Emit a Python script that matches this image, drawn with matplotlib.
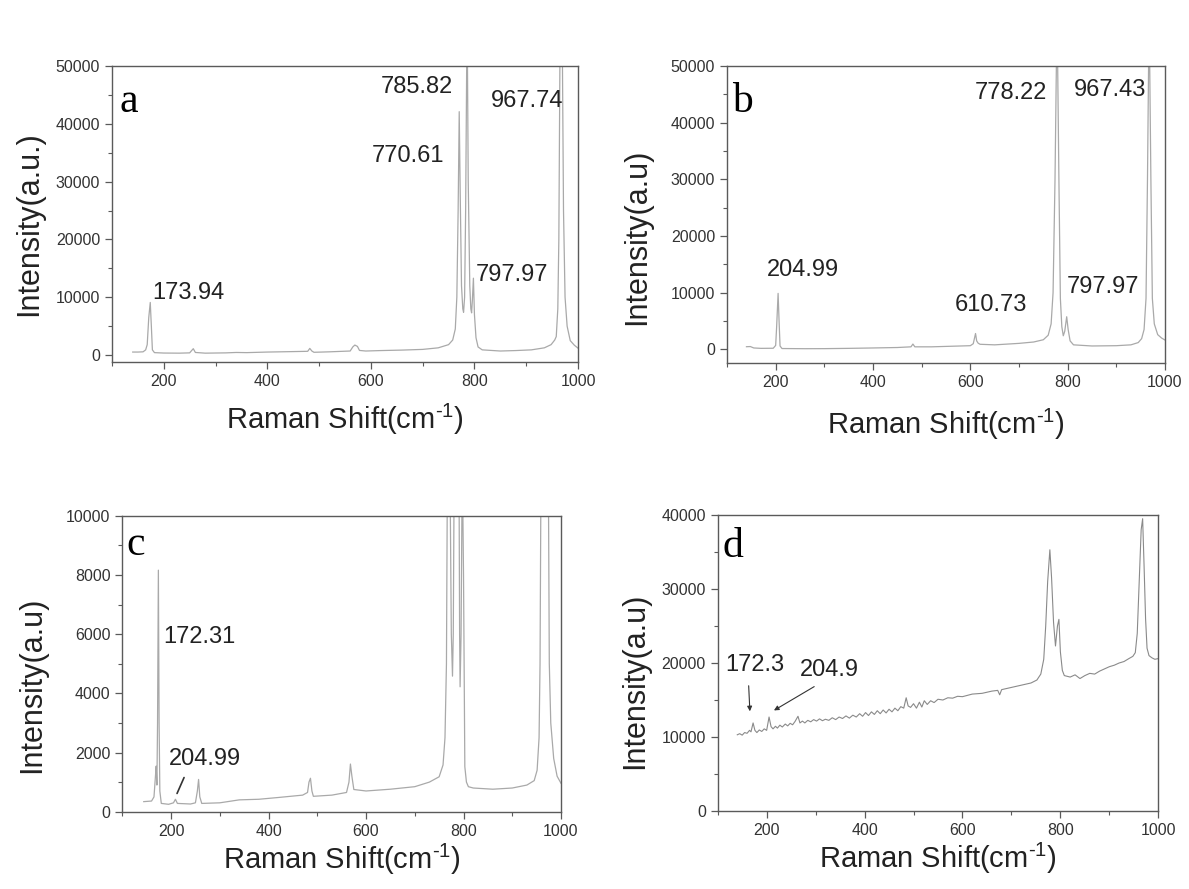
import numpy as np
import matplotlib as mpl
mpl.use('Agg')
import matplotlib.pyplot as plt
from matplotlib.ticker import MultipleLocator

plt.rcParams['font.family'] = ['Liberation Sans', 'DejaVu Sans']
plt.rcParams['mathtext.fontset'] = 'custom'
plt.rcParams['mathtext.rm'] = 'Liberation Sans'
plt.rcParams['mathtext.default'] = 'rm'

# ---- spectra (Raman shift, intensity) ----
a_x = [140, 150, 160, 165, 168, 171, 173.9, 176, 178, 182, 200, 230, 250, 254, 257, 261, 280, 320, 340, 360,
       400, 450, 478, 482, 486, 490, 520, 560, 565, 569, 574, 578, 590, 620, 660, 700, 730, 750, 758, 763,
       766, 768.5, 770.6, 772.5, 775, 777.5, 779, 781, 783, 785.8, 788, 791, 793, 794.5, 796, 798, 800, 803,
       807, 815, 850, 880, 910, 935, 948, 955, 958, 961, 963, 965, 967.7, 970, 972, 975, 979, 985, 993, 1000]
a_y = [520, 520, 560, 900, 1800, 6500, 9100, 5000, 900, 420, 350, 330, 380, 800, 1100, 450, 330, 380, 450, 420,
       520, 600, 650, 1150, 700, 480, 560, 700, 1400, 1730, 1500, 800, 700, 780, 860, 980, 1250, 1800, 2600, 4500,
       10000, 25000, 42100, 28000, 12000, 8000, 7400, 10000, 25000, 60000, 30000, 12000, 8000, 7300, 9500, 13300, 7000, 3000,
       1400, 900, 700, 780, 900, 1250, 1800, 2600, 3200, 8000, 20000, 50000, 60000, 50000, 25000, 10000, 5000, 2500, 1700, 1200]

b_x = [140, 148, 155, 170, 195, 200, 202, 205, 207, 209, 213, 260, 300, 350, 400, 450, 478, 482, 486, 520,
       560, 600, 606, 610.7, 613, 616, 620, 650, 700, 730, 750, 760, 766, 770, 774, 778.2, 782, 785, 788, 791,
       794, 798, 801, 805, 812, 850, 900, 930, 945, 952, 957, 961, 964, 967.4, 971, 974, 978, 985, 993, 1000]
b_y = [470, 500, 250, 180, 200, 700, 4000, 9880, 5000, 600, 150, 120, 130, 180, 250, 330, 450, 940, 450, 450,
       550, 650, 1000, 2800, 1500, 1100, 900, 800, 1060, 1300, 1700, 2500, 4500, 10000, 30000, 60000, 30000, 9000, 4000, 2400,
       3200, 5760, 3500, 1500, 800, 600, 650, 800, 1200, 1900, 3500, 9000, 30000, 60000, 30000, 9000, 4500, 2600, 2000, 1650]

c_x = [144, 160, 165, 168, 169.5, 171, 172.3, 174, 175.5, 177, 180, 195, 205, 209, 213, 240, 250, 254, 256.5, 259,
       263, 300, 340, 380, 420, 470, 480, 483, 486, 489, 492, 530, 560, 565, 568, 571, 575, 600, 650, 700,
       730, 750, 758, 762, 765, 766.5, 769, 771, 773, 775, 777.4, 779, 782, 786, 790, 792, 793, 795, 797.5, 800,
       802.7, 806, 810, 820, 860, 900, 930, 945, 951, 955, 957, 958.5, 962, 967, 972, 974.5, 976, 979, 985, 992, 1000]
c_y = [340, 360, 500, 1200, 1540, 900, 3000, 8160, 3000, 700, 280, 250, 300, 420, 280, 260, 300, 700, 1090, 500,
       280, 300, 400, 420, 480, 560, 650, 1000, 1130, 700, 520, 560, 650, 1000, 1610, 1200, 750, 700, 760, 845,
       1000, 1180, 1580, 2500, 5000, 10000, 20000, 22000, 10000, 6000, 4580, 6000, 15000, 30000, 15000, 6000, 4220, 6000, 12000, 8000,
       1520, 1000, 845, 800, 760, 800, 900, 1050, 1400, 2500, 5000, 10000, 30000, 60000, 30000, 10000, 5000, 3000, 1800, 1200, 960]

d_x = [140, 145, 150, 155, 160, 165, 168, 172.3, 176, 180, 185, 190, 195, 200, 204.9, 209, 213, 218, 222, 227,
       232, 238, 243, 248, 253, 258, 264, 268, 273, 278, 284, 290, 296, 302, 308, 314, 320, 327, 334, 341,
       348, 355, 362, 369, 376, 383, 390, 396, 402, 408, 414, 420, 426, 432, 438, 444, 450, 456, 462, 468,
       474, 480, 485, 489, 494, 500, 506, 512, 517, 522, 528, 535, 542, 550, 560, 570, 580, 590, 600, 620,
       640, 660, 672, 676, 680, 700, 720, 740, 752, 760, 766, 770, 774, 778.5, 782, 786, 790, 794, 797, 800,
       804, 808, 820, 830, 840, 850, 860, 870, 880, 890, 900, 910, 920, 930, 940, 948, 953, 957, 961, 965,
       968, 971, 974, 977, 981, 987, 993, 1000]
d_y = [10300, 10450, 10250, 10600, 10500, 10900, 10700, 11900, 10900, 10600, 10950, 10750, 11100, 10900, 12700, 11400, 11100, 11450, 11200, 11600,
       11350, 11750, 11500, 11850, 11650, 12100, 12800, 11900, 12150, 11900, 12250, 12050, 12350, 12150, 12450, 12200, 12400, 12250, 12600, 12350,
       12700, 12500, 12850, 12550, 12950, 12700, 13150, 12800, 13300, 12900, 13400, 13050, 13550, 13150, 13650, 13250, 13750, 13400, 13900, 13550,
       14100, 13900, 15300, 14200, 14000, 14500, 13900, 14700, 14050, 14900, 14400, 14900, 14650, 15100, 15000, 15300, 15250, 15500, 15450, 15800,
       15900, 16200, 16300, 15700, 16400, 16700, 17000, 17300, 17700, 18500, 20500, 25000, 31000, 35300, 31500, 25500, 22300, 25000, 25900, 21500,
       19000, 18300, 18100, 18400, 17900, 18300, 18600, 18500, 18900, 19200, 19500, 19700, 20000, 20200, 20600, 20900, 21400, 24000, 31000, 38000,
       39500, 33000, 26000, 22000, 21000, 20700, 20500, 20600]

a_labels = [('173.94', 178, 10800), ('785.82', 620, 46300), ('770.61', 601, 34400),
            ('797.97', 802, 13800), ('967.74', 831, 44000)]
b_labels = [('778.22', 610, 45200), ('967.43', 812, 45700), ('204.99', 181, 14000),
            ('610.73', 568, 7800), ('797.97', 798, 11000)]
c_labels = [('172.31', 183, 5900), ('204.99', 196, 1780)]
d_labels = [('172.3', 115, 19700), ('204.9', 268, 19000)]

line_col = '#a9a9a9'
spine_col = '#5a5a5a'

fig = plt.figure(figsize=(11.89, 8.89), dpi=100)

def setup(ax, ylim, ymaj, ymin, ylabel, xlab_y, ylab_xy):
    ax.set_xlim(100, 1000)
    ax.set_ylim(*ylim)
    ax.xaxis.set_major_locator(MultipleLocator(200))
    ax.xaxis.set_minor_locator(MultipleLocator(100))
    ax.yaxis.set_major_locator(MultipleLocator(ymaj))
    ax.yaxis.set_minor_locator(MultipleLocator(ymin))
    ax.tick_params(which='both', direction='out', top=False, right=False, colors=spine_col,
                   labelcolor='#333333', labelsize=11.5)
    ax.tick_params(which='major', length=5, width=0.9)
    ax.tick_params(which='minor', length=3, width=0.8)
    for s in ax.spines.values():
        s.set_color(spine_col)
        s.set_linewidth(1.0)
    # hyphen, not minus, in the superscript like the original
    ax.set_xlabel('Raman Shift(cm$^{\\text{-}1}$)', fontsize=21, color='#222222')
    ax.set_ylabel(ylabel, fontsize=22, color='#222222')
    ax.xaxis.set_label_coords(0.5, xlab_y)
    ax.yaxis.set_label_coords(*ylab_xy)

def letter(ax, s, x, y):
    ax.text(x, y, s, fontsize=30, family=['Liberation Serif', 'DejaVu Serif'],
            ha='left', va='baseline', color='black')

def peak_labels(ax, labels):
    for txt, x, y in labels:
        ax.text(x, y, txt, fontsize=17, ha='left', va='center', color='#222222')

# a
ax = fig.add_axes([112/1189, 1-362/889, 466/1189, 296/889])
ax.plot(a_x, a_y, color=line_col, lw=0.9)
setup(ax, (-1200, 50000), 10000, 5000, 'Intensity(a.u.)', -0.135, (-0.146, 0.466))
peak_labels(ax, a_labels)
letter(ax, 'a', 115, 42100)

# b
ax = fig.add_axes([727/1189, 1-362.7/889, 438/1189, 296.7/889])
ax.plot(b_x, b_y, color=line_col, lw=0.9)
setup(ax, (-2350, 50000), 10000, 5000, 'Intensity(a.u)', -0.15, (-0.171, 0.424))
peak_labels(ax, b_labels)
letter(ax, 'b', 111, 41900)

# c
ax = fig.add_axes([122.3/1189, 1-811.7/889, 438.7/1189, 296/889])
ax.plot(c_x, c_y, color=line_col, lw=0.9)
setup(ax, (0, 10000), 2000, 1000, 'Intensity(a.u)', -0.10, (-0.172, 0.428))
peak_labels(ax, c_labels)
ax.annotate('', xy=(210, 530), xytext=(229, 1240),
            arrowprops=dict(arrowstyle='-', color='#333333', lw=1.2))
letter(ax, 'c', 108, 8670)

# d
ax = fig.add_axes([717.7/1189, 1-811/889, 440.6/1189, 296/889])
ax.plot(d_x, d_y, color='#8a8a8a', lw=0.8)
setup(ax, (0, 40000), 10000, 5000, 'Intensity(a.u)', -0.10, (-0.154, 0.44))
peak_labels(ax, d_labels)
ax.annotate('', xy=(166, 13100), xytext=(163, 17300),
            arrowprops=dict(arrowstyle='-|>', color='#333333', lw=0.8, mutation_scale=7))
ax.annotate('', xy=(210, 13400), xytext=(302, 17000),
            arrowprops=dict(arrowstyle='-|>', color='#333333', lw=0.8, mutation_scale=7))
letter(ax, 'd', 109, 34300)

plt.savefig('out.png', dpi=100)
